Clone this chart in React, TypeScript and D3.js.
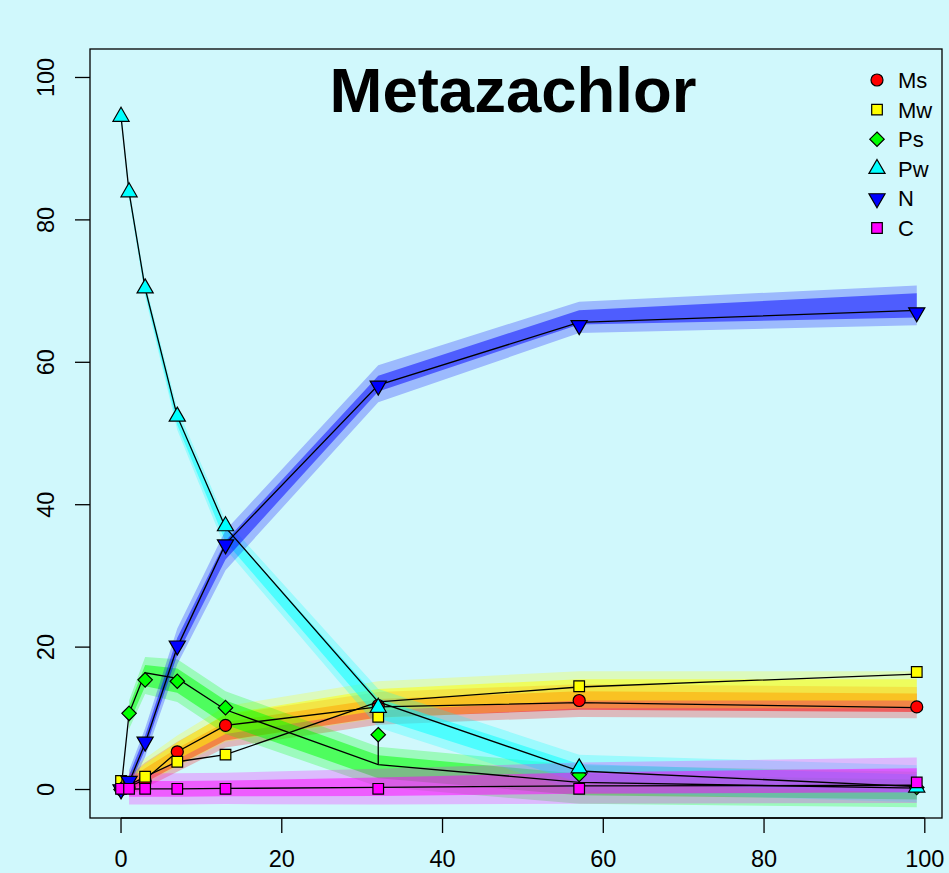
import React from 'react';
import * as d3 from 'd3';

const WIDTH = 949;
const HEIGHT = 873;

// sampling times (days)
const times = [0, 1, 3, 7, 13, 32, 57, 99];
const bandTimes = [1, 3, 7, 13, 32, 57, 99];
const pwBandTimes = [0, 1, 3, 7, 13, 32, 57, 99];

const xTicks = [0, 20, 40, 60, 80, 100];
const yTicks = [0, 20, 40, 60, 80, 100];

const seriesNames = ['Ms', 'Mw', 'Ps', 'Pw', 'N', 'C'];
const seriesColors = ['#ff0000', '#ffff00', '#00ff00', '#00ffff', '#0000ff', '#ff00ff'];
const seriesShapes = ['circle', 'square', 'diamond', 'triangleUp', 'triangleDown', 'square'];

// observed values (% of applied)
const msObs = [0, 0.3, 1.2, 5.3, 9.0, 11.8, 12.5, 11.6];
const mwObs = [1.2, 0.9, 1.8, 3.9, 4.9, 10.2, 14.5, 16.5];
const psObs = [0, 10.7, 15.4, 15.2, 11.5, 7.7, 2.1, 0.3];
const pwObs = [94.5, 83.9, 70.4, 52.4, 37.0, 11.5, 3.0, 0.3];
const nObs = [0, 1.2, 6.7, 20.2, 34.4, 56.7, 65.2, 67.0];
const cObs = [0.1, 0.1, 0.1, 0.1, 0.1, 0.1, 0.1, 1.0];

// fitted values
const msFit = [0, 0.4, 1.4, 5.3, 9.0, 11.6, 12.2, 11.5];
const mwFit = [0, 0.6, 1.8, 3.9, 4.9, 12.3, 14.4, 16.2];
const psFit = [0, 10.7, 16.4, 15.6, 11.2, 3.5, 1.0, 0.2];
const pwFit = [94.5, 83.9, 70.4, 52.4, 36.8, 12.3, 2.6, 0.4];
const nFit = [0, 1.0, 6.5, 20.0, 34.5, 56.8, 65.6, 67.3];
const cFit = [0, 0.05, 0.1, 0.1, 0.15, 0.3, 0.5, 0.6];

// uncertainty bands: centre, outer and inner half-widths
const msBandMid = [0.6, 2.0, 4.6, 8.2, 11.4, 12.5, 12.2];
const msBandOuter = [1.4, 1.8, 2.1, 2.3, 2.3, 2.3, 2.2];
const msBandInner = [0.8, 1.0, 1.2, 1.3, 1.3, 1.3, 1.3];
const mwBandMid = [1.0, 2.6, 5.4, 9.2, 12.6, 14.0, 14.0];
const mwBandOuter = [1.4, 1.8, 2.2, 2.5, 2.6, 2.6, 2.6];
const mwBandInner = [0.8, 1.0, 1.2, 1.4, 1.5, 1.5, 1.5];
const psBandMid = [10.5, 16.0, 15.3, 10.8, 3.2, 0.7, 0.0];
const psBandOuter = [2.0, 2.6, 3.0, 3.0, 2.8, 2.7, 2.5];
const psBandInner = [1.2, 1.5, 1.7, 1.7, 1.6, 1.5, 1.4];
const pwBandMid = [94.5, 83.8, 70.2, 52.0, 35.8, 11.4, 2.3, 0.8];
const pwBandOuter = [0.4, 0.7, 1.0, 1.5, 2.0, 2.7, 2.6, 2.6];
const pwBandInner = [0.2, 0.4, 0.5, 0.8, 1.0, 1.4, 1.3, 1.3];
const nBandMid = [1.2, 6.6, 20.1, 33.6, 57.0, 66.3, 68.0];
const nBandOuter = [1.5, 2.0, 2.5, 2.8, 2.6, 2.2, 2.8];
const nBandInner = [0.8, 1.0, 1.2, 1.3, 1.1, 1.0, 1.7];
const cBandMid = [0.1, 0.1, 0.1, 0.15, 0.4, 0.9, 1.3];
const cBandOuter = [2.2, 2.2, 2.2, 2.2, 2.5, 2.9, 3.2];
const cBandInner = [1.1, 1.1, 1.1, 1.1, 1.3, 1.5, 1.7];

const observed = [msObs, mwObs, psObs, pwObs, nObs, cObs];
const fitted = [msFit, mwFit, psFit, pwFit, nFit, cFit];
const bands = [
  { t: bandTimes, mid: msBandMid, outer: msBandOuter, inner: msBandInner },
  { t: bandTimes, mid: mwBandMid, outer: mwBandOuter, inner: mwBandInner },
  { t: bandTimes, mid: psBandMid, outer: psBandOuter, inner: psBandInner },
  { t: pwBandTimes, mid: pwBandMid, outer: pwBandOuter, inner: pwBandInner },
  { t: bandTimes, mid: nBandMid, outer: nBandOuter, inner: nBandInner },
  { t: bandTimes, mid: cBandMid, outer: cBandOuter, inner: cBandInner },
];

const PLOT = { left: 90, right: 942, top: 49, bottom: 818 };
const FONT = "'Liberation Sans', Arial, Helvetica, sans-serif";
const BG = '#d0f8fc';

const x = d3.scaleLinear().domain([-3.86, 102.14]).range([PLOT.left, PLOT.right]);
const y = d3.scaleLinear().domain([-4, 104]).range([PLOT.bottom, PLOT.top]);

const R = 6.0;

function markerPath(shape: string): string {
  switch (shape) {
    case 'square': {
      const h = R * 0.886;
      return `M${-h},${-h}H${h}V${h}H${-h}Z`;
    }
    case 'diamond': {
      const h = R * 1.2;
      return `M0,${-h}L${h},0L0,${h}L${-h},0Z`;
    }
    case 'triangleUp': {
      const r = R * 1.555, xc = R * 1.347, yc = R * 0.7775;
      return `M0,${-r}L${xc},${yc}L${-xc},${yc}Z`;
    }
    case 'triangleDown': {
      const r = R * 1.555, xc = R * 1.347, yc = R * 0.7775;
      return `M0,${r}L${xc},${-yc}L${-xc},${-yc}Z`;
    }
    default:
      return '';
  }
}

function Marker({ cx, cy, shape, fill }: { cx: number; cy: number; shape: string; fill: string }) {
  if (shape === 'circle') {
    return <circle cx={cx} cy={cy} r={R} fill={fill} stroke="#000" strokeWidth={1.2} />;
  }
  return (
    <path
      d={markerPath(shape)}
      transform={`translate(${cx},${cy})`}
      fill={fill}
      stroke="#000"
      strokeWidth={1.2}
      strokeLinejoin="miter"
    />
  );
}

export default function App() {
  const bandArea = (t: number[], mid: number[], half: number[]) =>
    d3
      .area<number>()
      .x((_, i) => x(t[i]))
      .y0((_, i) => y(mid[i] - half[i]))
      .y1((_, i) => y(mid[i] + half[i]))(mid) || '';

  const fitLine = d3
    .line<number>()
    .x((_, i) => x(times[i]))
    .y((v) => y(v));

  return (
    <svg
      width={WIDTH}
      height={HEIGHT}
      style={{ position: 'absolute', left: 0, top: 0, display: 'block' }}
      fontFamily={FONT}
    >
      <rect x={0} y={0} width={WIDTH} height={HEIGHT} fill={BG} />

      {/* bands */}
      {bands.map((b, s) => (
        <g key={`band-${s}`}>
          <path d={bandArea(b.t, b.mid, b.outer)} fill={seriesColors[s]} fillOpacity={0.25} />
          <path d={bandArea(b.t, b.mid, b.inner)} fill={seriesColors[s]} fillOpacity={0.5} />
        </g>
      ))}

      {/* fitted lines, residuals and observations */}
      {seriesNames.map((name, s) => (
        <g key={`series-${name}`}>
          <path d={fitLine(fitted[s]) || ''} fill="none" stroke="#000" strokeWidth={1.3} />
          {times.map((t, i) => (
            <line
              key={`res-${i}`}
              x1={x(t)}
              x2={x(t)}
              y1={y(observed[s][i])}
              y2={y(fitted[s][i])}
              stroke="#000"
              strokeWidth={1.3}
            />
          ))}
          {times.map((t, i) => (
            <Marker
              key={`pt-${i}`}
              cx={x(t)}
              cy={y(observed[s][i])}
              shape={seriesShapes[s]}
              fill={seriesColors[s]}
            />
          ))}
        </g>
      ))}

      {/* plot frame */}
      <rect
        x={PLOT.left}
        y={PLOT.top}
        width={PLOT.right - PLOT.left}
        height={PLOT.bottom - PLOT.top}
        fill="none"
        stroke="#000"
        strokeWidth={1.3}
      />

      {/* x axis */}
      <g>
        <line x1={x(0)} x2={x(100)} y1={PLOT.bottom} y2={PLOT.bottom} stroke="#000" strokeWidth={1.3} />
        {xTicks.map((v) => (
          <g key={`xt-${v}`}>
            <line x1={x(v)} x2={x(v)} y1={PLOT.bottom} y2={PLOT.bottom + 15} stroke="#000" strokeWidth={1.3} />
            <text x={x(v)} y={867} textAnchor="middle" fontSize={23.5} fill="#000">
              {v}
            </text>
          </g>
        ))}
      </g>

      {/* y axis */}
      <g>
        {yTicks.map((v) => (
          <g key={`yt-${v}`}>
            <line x1={PLOT.left - 15} x2={PLOT.left} y1={y(v)} y2={y(v)} stroke="#000" strokeWidth={1.3} />
            <text
              transform={`translate(54,${y(v)}) rotate(-90)`}
              textAnchor="middle"
              fontSize={23.5}
              fill="#000"
            >
              {v}
            </text>
          </g>
        ))}
      </g>

      {/* title */}
      <text x={513} y={112} textAnchor="middle" fontSize={63.5} fontWeight="bold" fill="#000">
        Metazachlor
      </text>

      {/* legend */}
      <g>
        {seriesNames.map((name, s) => {
          const cy = 80 + s * 29.6;
          return (
            <g key={`leg-${name}`}>
              <Marker cx={877} cy={cy} shape={seriesShapes[s]} fill={seriesColors[s]} />
              <text x={898} y={cy + 8} fontSize={22} fill="#000">
                {name}
              </text>
            </g>
          );
        })}
      </g>
    </svg>
  );
}
